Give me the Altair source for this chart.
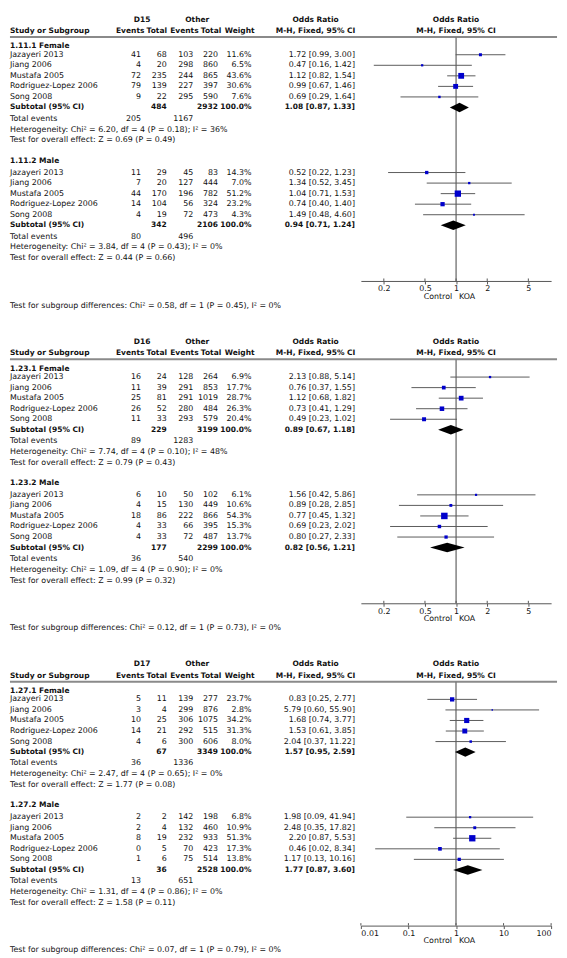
import altair as alt
import pandas as pd

# ---------------- data ----------------
panel_names = ["D15", "D16", "D17"]
subgroup_names = ["1.11.1 Female", "1.11.2 Male", "1.23.1 Female", "1.23.2 Male",
                  "1.27.1 Female", "1.27.2 Male"]
study_names = ["Jazayeri 2013", "Jiang 2006", "Mustafa 2005", "Rodriguez-Lopez 2006", "Song 2008"]

events_case = [41, 4, 72, 79, 9, 11, 7, 44, 14, 4, 16, 11, 25, 26, 11,
               6, 4, 18, 4, 4, 5, 3, 10, 14, 4, 2, 2, 8, 0, 1]
total_case = [68, 20, 235, 139, 22, 29, 20, 170, 104, 19, 24, 39, 81, 52, 33,
              10, 15, 86, 33, 33, 11, 4, 25, 21, 6, 2, 4, 19, 5, 6]
events_other = [103, 298, 244, 227, 295, 45, 127, 196, 56, 72, 128, 291, 291, 280, 293,
                50, 130, 222, 66, 72, 139, 299, 306, 292, 300, 142, 132, 232, 70, 75]
total_other = [220, 860, 865, 397, 590, 83, 444, 782, 324, 473, 264, 853, 1019, 484, 579,
               102, 449, 866, 395, 487, 277, 876, 1075, 515, 606, 198, 460, 933, 423, 514]
weight = [11.6, 6.5, 43.6, 30.6, 7.6, 14.3, 7.0, 51.2, 23.2, 4.3, 6.9, 17.7, 28.7, 26.3, 20.4,
          6.1, 10.6, 54.3, 15.3, 13.7, 23.7, 2.8, 34.2, 31.3, 8.0, 6.8, 10.9, 51.3, 17.3, 13.8]
odds_ratio = [1.72, 0.47, 1.12, 0.99, 0.69, 0.52, 1.34, 1.04, 0.74, 1.49, 2.13, 0.76, 1.12, 0.73, 0.49,
              1.56, 0.89, 0.77, 0.69, 0.80, 0.83, 5.79, 1.68, 1.53, 2.04, 1.98, 2.48, 2.20, 0.46, 1.17]
ci_low = [0.99, 0.16, 0.82, 0.67, 0.29, 0.22, 0.52, 0.71, 0.40, 0.48, 0.88, 0.37, 0.68, 0.41, 0.23,
          0.42, 0.28, 0.45, 0.23, 0.27, 0.25, 0.60, 0.74, 0.61, 0.37, 0.09, 0.35, 0.87, 0.02, 0.13]
ci_high = [3.00, 1.42, 1.54, 1.46, 1.64, 1.23, 3.45, 1.53, 1.40, 4.60, 5.14, 1.55, 1.82, 1.29, 1.02,
           5.86, 2.85, 1.32, 2.02, 2.33, 2.77, 55.90, 3.77, 3.85, 11.22, 41.94, 17.82, 5.53, 8.34, 10.16]

sub_total_case = [484, 342, 229, 177, 67, 36]
sub_total_other = [2932, 2106, 3199, 2299, 3349, 2528]
sub_weight_label = ["100.0%"] * 6
sub_or = [1.08, 0.94, 0.89, 0.82, 1.57, 1.77]
sub_lo = [0.87, 0.71, 0.67, 0.56, 0.95, 0.87]
sub_hi = [1.33, 1.24, 1.18, 1.21, 2.59, 3.60]
tot_events_case = [205, 80, 89, 36, 36, 13]
tot_events_other = [1167, 496, 1283, 540, 1336, 651]
het_chi = [6.20, 3.84, 7.74, 1.09, 2.47, 1.31]
het_df = [4, 4, 4, 4, 4, 4]
het_p = [0.18, 0.43, 0.10, 0.90, 0.65, 0.86]
het_i2 = [36, 0, 48, 0, 0, 0]
z_value = [0.69, 0.44, 0.79, 0.99, 1.77, 1.58]
z_p = [0.49, 0.66, 0.43, 0.32, 0.08, 0.11]
sg_chi = [0.58, 0.12, 0.07]
sg_df = [1, 1, 1]
sg_p = [0.45, 0.73, 0.79]
sg_i2 = [0, 0, 0]

axis_ticks = [[0.2, 0.5, 1, 2, 5], [0.2, 0.5, 1, 2, 5], [0.01, 0.1, 1, 10, 100]]
axis_domain = [[0.12, 8.3], [0.12, 8.3], [0.01, 100]]
null_value = [1]
favours = ["Control", "KOA"]

# ---------------- layout / style ----------------
FONT = "DejaVu Sans"
FS = 8          # regular text
FSB = 7.6       # bold text
TXT = "#111111"
W = 555
PANEL_H = [325, 325, 298]
FOREST_RANGE = [356, 549]

X_NAME, X_EV1, X_TOT1, X_EV2, X_TOT2, X_W, X_OR = 0, 133, 159, 186, 211, 245, 350
HX_D, HX_OTHER = 134, 190
HX_EV1, HX_TOT1, HX_EV2, HX_TOT2, HX_W, HX_OR, HX_FOREST = 122, 149, 177, 204, 233, 310, 452.5

Y_H1, Y_H2, Y_SEP = 4, 15.5, 21.5
TITLE_Y = [31, 147]
STUDY_Y0 = [39.5, 159]
STEP = 10.7
AXIS_Y = 269
Y_FAV = 285
Y_SG = 294
DH = 4.8


def build_panel(p):
    H = PANEL_H[p]
    ys = alt.Scale(domain=[0, H], range=[0, H], nice=False, zero=False)
    xs = alt.Scale(type="log", domain=axis_domain[p], range=FOREST_RANGE, nice=False)
    ax = alt.Axis(values=axis_ticks[p], format="~g", title=None, grid=False,
                  offset=AXIS_Y - H, tickSize=3, tickColor="#555555", domainColor="#555555",
                  labelFont=FONT, labelFontSize=FS, labelColor=TXT, labelPadding=1,
                  labelOverlap=False)

    groups = {}

    def add(x, align, bold, y, t):
        groups.setdefault((x, align, bold), []).append({"y": y, "t": t})

    add(HX_D, "center", True, Y_H1, panel_names[p])
    add(HX_OTHER, "center", True, Y_H1, "Other")
    add(HX_OR, "center", True, Y_H1, "Odds Ratio")
    add(HX_FOREST, "center", True, Y_H1, "Odds Ratio")
    add(X_NAME, "left", True, Y_H2, "Study or Subgroup")
    add(HX_EV1, "center", True, Y_H2, "Events")
    add(HX_TOT1, "center", True, Y_H2, "Total")
    add(HX_EV2, "center", True, Y_H2, "Events")
    add(HX_TOT2, "center", True, Y_H2, "Total")
    add(HX_W, "center", True, Y_H2, "Weight")
    add(HX_OR, "center", True, Y_H2, "M-H, Fixed, 95% CI")
    add(HX_FOREST, "center", True, Y_H2, "M-H, Fixed, 95% CI")

    studies, diamonds = [], []
    for g in range(2):
        s = p * 2 + g
        add(X_NAME, "left", True, TITLE_Y[g], subgroup_names[s])
        for i in range(5):
            k = s * 5 + i
            y = STUDY_Y0[g] + i * STEP
            add(X_NAME, "left", False, y, study_names[i])
            add(X_EV1, "right", False, y, str(events_case[k]))
            add(X_TOT1, "right", False, y, str(total_case[k]))
            add(X_EV2, "right", False, y, str(events_other[k]))
            add(X_TOT2, "right", False, y, str(total_other[k]))
            add(X_W, "right", False, y, f"{weight[k]:.1f}%")
            add(X_OR, "right", False, y, f"{odds_ratio[k]:.2f} [{ci_low[k]:.2f}, {ci_high[k]:.2f}]")
            studies.append({"y": y, "est": odds_ratio[k], "lo": ci_low[k], "hi": ci_high[k], "w": weight[k]})
        ysub = STUDY_Y0[g] + 5 * STEP
        add(X_NAME, "left", True, ysub, "Subtotal (95% CI)")
        add(X_TOT1, "right", True, ysub, str(sub_total_case[s]))
        add(X_TOT2, "right", True, ysub, str(sub_total_other[s]))
        add(X_W, "right", True, ysub, sub_weight_label[s])
        add(X_OR, "right", True, ysub, f"{sub_or[s]:.2f} [{sub_lo[s]:.2f}, {sub_hi[s]:.2f}]")
        diamonds += [
            {"id": s, "x": sub_lo[s], "ya": ysub, "yb": ysub},
            {"id": s, "x": sub_or[s], "ya": ysub - DH, "yb": ysub + DH},
            {"id": s, "x": sub_hi[s], "ya": ysub, "yb": ysub},
        ]
        add(X_NAME, "left", False, ysub + 11.5, "Total events")
        add(X_EV1, "right", False, ysub + 11.5, str(tot_events_case[s]))
        add(X_EV2, "right", False, ysub + 11.5, str(tot_events_other[s]))
        add(X_NAME, "left", False, ysub + 22.5,
            f"Heterogeneity: Chi\u00b2 = {het_chi[s]:.2f}, df = {het_df[s]} (P = {het_p[s]:.2f}); I\u00b2 = {het_i2[s]}%")
        add(X_NAME, "left", False, ysub + 33.5,
            f"Test for overall effect: Z = {z_value[s]:.2f} (P = {z_p[s]:.2f})")
    add(X_NAME, "left", False, Y_SG,
        f"Test for subgroup differences: Chi\u00b2 = {sg_chi[p]:.2f}, df = {sg_df[p]} (P = {sg_p[p]:.2f}), I\u00b2 = {sg_i2[p]}%")

    layers = []
    # separator line under header
    layers.append(alt.Chart(pd.DataFrame({"y": [Y_SEP]})).mark_rule(color="#8a8a8a", strokeWidth=2).encode(
        x=alt.value(0), x2=alt.value(W), y=alt.Y("y:Q", scale=ys, axis=None)))
    # line of no effect
    layers.append(alt.Chart(pd.DataFrame({"x": null_value, "ya": [Y_SEP], "yb": [AXIS_Y]})).mark_rule(
        color="#777777", strokeWidth=1.4).encode(
        x=alt.X("x:Q", scale=xs, axis=ax), y=alt.Y("ya:Q", scale=ys, axis=None), y2="yb:Q"))
    sdf = pd.DataFrame(studies)
    layers.append(alt.Chart(sdf).mark_rule(color="#5a5a5a", strokeWidth=1).encode(
        x=alt.X("lo:Q", scale=xs, axis=ax), x2="hi:Q", y=alt.Y("y:Q", scale=ys, axis=None)))
    layers.append(alt.Chart(sdf).mark_square(filled=True, color="#0000cc", opacity=1).encode(
        x=alt.X("est:Q", scale=xs, axis=ax), y=alt.Y("y:Q", scale=ys, axis=None),
        size=alt.Size("w:Q", scale=alt.Scale(domain=[0, 100], range=[0, 80]), legend=None)))
    layers.append(alt.Chart(pd.DataFrame(diamonds)).mark_area(color="black", opacity=1).encode(
        x=alt.X("x:Q", scale=xs, axis=ax), y=alt.Y("ya:Q", scale=ys, axis=None), y2="yb:Q",
        detail="id:N"))
    # upper half of the crossing ticks
    layers.append(alt.Chart(pd.DataFrame({"v": axis_ticks[p], "ya": [AXIS_Y - 2.5] * 5, "yb": [AXIS_Y] * 5})).mark_rule(
        color="#555555", strokeWidth=1).encode(
        x=alt.X("v:Q", scale=xs, axis=ax), y=alt.Y("ya:Q", scale=ys, axis=None), y2="yb:Q"))
    # favours labels
    for lab, align, dx in [(favours[0], "right", -4), (favours[1], "left", 3)]:
        layers.append(alt.Chart(pd.DataFrame({"v": null_value, "y": [Y_FAV], "t": [lab]})).mark_text(
            align=align, dx=dx, baseline="middle", font=FONT, fontSize=FS, color=TXT).encode(
            x=alt.X("v:Q", scale=xs, axis=ax), y=alt.Y("y:Q", scale=ys, axis=None), text="t:N"))
    for (x, align, bold), rows in groups.items():
        layers.append(alt.Chart(pd.DataFrame(rows)).mark_text(
            align=align, baseline="middle", font=FONT, fontSize=FSB if bold else FS, color=TXT,
            fontWeight="bold" if bold else "normal").encode(
            x=alt.value(x), y=alt.Y("y:Q", scale=ys, axis=None), text="t:N"))
    return alt.layer(*layers).properties(width=W, height=H)


chart = alt.vconcat(*[build_panel(p) for p in range(3)], spacing=0, padding=0).resolve_scale(
    x="independent", y="independent", size="independent").configure_view(stroke="transparent")

chart.save("out.html", embed_options={"renderer": "svg", "actions": False})
